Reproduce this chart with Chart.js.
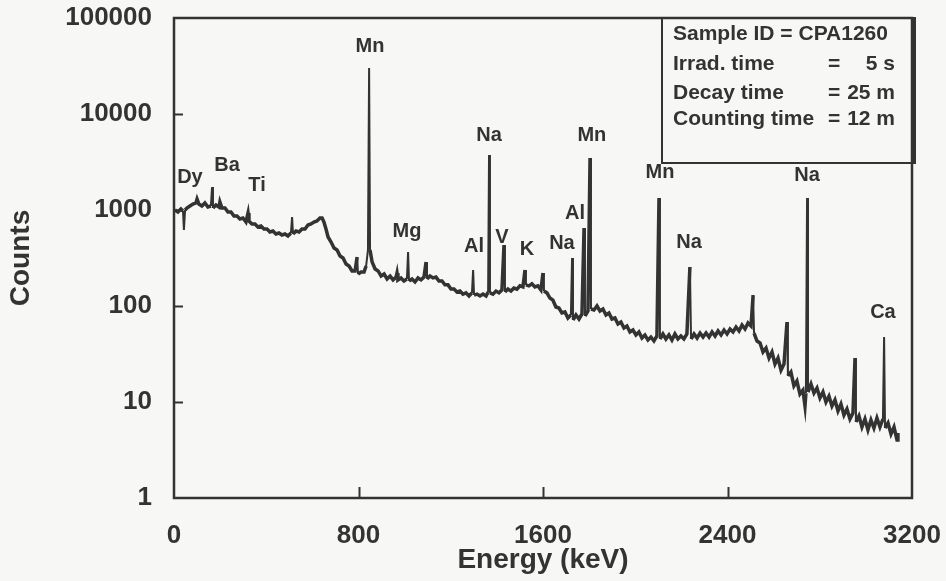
<!DOCTYPE html>
<html><head><meta charset="utf-8">
<script src="https://cdn.jsdelivr.net/npm/chart.js@4.4.1/dist/chart.umd.min.js"></script>
<style>html,body{margin:0;padding:0;background:#f7f7f5}#wrap{width:946px;height:581px;position:relative}</style>
</head><body><div id="wrap"><canvas id="c"></canvas></div>
<script>
// Gamma spectrum, energy in keV and counts per channel
const energy = [
4,17,30,39,43,48,56,69,82,95,
100,108,121,134,147,160,165,169,182,195,
199,208,221,234,247,260,273,286,299,312,
321,325,338,351,364,377,390,403,416,429,
442,455,468,481,494,507,512,516,529,542,
555,568,581,594,607,620,633,642,650,659,
668,681,694,707,720,733,746,759,772,785,
794,798,811,824,833,841,846,850,859,872,
885,898,911,924,937,950,963,967,971,984,
997,1010,1015,1019,1032,1045,1058,1071,1084,1093,
1097,1110,1123,1136,1149,1162,1175,1188,1201,1214,
1227,1240,1253,1266,1279,1292,1297,1301,1314,1327,
1340,1353,1362,1366,1370,1383,1396,1409,1422,1431,
1435,1448,1461,1474,1487,1500,1513,1522,1526,1539,
1552,1565,1578,1591,1600,1604,1617,1630,1643,1656,
1669,1682,1695,1708,1721,1726,1730,1743,1756,1769,
1778,1782,1795,1804,1808,1821,1834,1847,1860,1873,
1886,1899,1912,1925,1938,1951,1964,1977,1990,2003,
2016,2029,2042,2055,2068,2081,2094,2103,2107,2120,
2133,2146,2159,2172,2185,2198,2211,2224,2237,2242,
2255,2268,2281,2294,2307,2320,2333,2346,2359,2372,
2385,2398,2411,2424,2437,2450,2463,2476,2489,2502,
2511,2515,2528,2541,2554,2567,2580,2593,2606,2619,
2632,2645,2658,2662,2675,2688,2701,2714,2727,2736,
2740,2745,2749,2762,2775,2788,2801,2814,2827,2840,
2853,2866,2879,2892,2905,2918,2931,2944,2953,2957,
2970,2983,2996,3009,3022,3035,3048,3061,3074,3079,
3083,3096,3109,3122,3135,3139
];
const counts = [
1000,953,1024,976,619,1000,1049,1101,1155,1183,
1302,1155,1101,1183,1075,1101,1737,1049,1127,1075,
1212,1049,1049,953,953,866,866,806,825,750,
931,768,715,715,665,681,634,634,590,604,
562,576,549,562,536,576,846,562,604,590,
634,634,698,715,750,768,825,825,750,634,
523,464,402,383,332,316,274,261,232,232,
324,215,226,226,261,383,30150,383,287,243,
232,205,215,191,205,187,200,221,187,196,
182,191,365,182,191,178,196,187,200,287,
191,205,196,200,182,182,166,166,150,150,
140,143,133,137,127,137,237,130,133,127,
133,127,140,3740,137,133,143,137,147,432,
140,150,143,154,150,162,158,237,166,162,
170,158,162,147,221,143,137,121,115,97.6,
95.3,84.6,86.6,75,80.6,316,71.5,80.6,73.2,82.5,
649,78.7,88.7,3480,93.1,90.9,100,88.7,93.1,80.6,
84.6,73.2,75,64.9,68.1,59,61.9,53.6,56.2,49.9,
53.6,46.4,49.9,44.2,47.5,43.2,48.7,1334,45.3,51.1,
45.3,49.9,44.2,51.1,45.3,48.7,45.3,51.1,255,45.3,
51.1,46.4,52.3,47.5,52.3,47.5,53.6,48.7,54.9,49.9,
56.2,51.1,57.6,53.6,60.4,54.9,63.4,57.6,66.5,61.9,
130,52.3,43.2,41.2,33.2,36.5,28.7,33.2,24.9,28.7,
21.5,24.9,68.1,18.7,20.5,14.7,16.5,12.1,13.3,9.09,
12.4,1334,12.7,15.4,12.4,14,11,12.7,10,11.5,
9.09,10.5,8.06,9.53,7.32,8.46,6.65,7.68,28.7,6.19,
7.15,5.49,6.65,5.11,6.49,5.36,6.81,5.49,6.65,47.5,
5.36,6.04,4.64,5.49,4.02,4.75
];
// Element labels over the peaks (anchor in energy / counts)
const peakNames       = ['Dy','Ba','Ti','Mn','Mg','Al','Na','V','K','Na','Al','Mn','Mn','Na','Na','Ca'];
const peakLabelEnergy = [69,230,360,850,1010,1301,1366,1422,1531,1682,1739,1812,2107,2233,2745,3074];
const peakLabelCounts = [2206,2940,1820,49900,604,412,6040,523,392,453,930,6040,2430,464,2315,86.6];
// Axis ticks
const xTickValues = [0,800,1600,2400,3200];
const yTickValues = [1,10,100,1000,10000,100000];
// Info box
const infoLabels = ['Irrad. time','Decay time','Counting time'];
const infoValues = ['5 s','25 m','12 m'];
const sampleLine = 'Sample ID = CPA1260';

const FONT = '"Liberation Sans", Arial, Helvetica, sans-serif';
const INK = '#333333';
const BG = '#f7f7f5';

const decorPlugin = {
  id: 'decor',
  beforeDraw(chart){
    const ctx = chart.ctx;
    ctx.save(); ctx.fillStyle = BG; ctx.fillRect(0,0,chart.width,chart.height); ctx.restore();
  },
  afterDraw(chart){
    const {ctx, chartArea:a, scales:{x,y}} = chart;
    ctx.save();
    ctx.strokeStyle = INK; ctx.lineWidth = 2.5;
    ctx.strokeRect(a.left, a.top, a.right - a.left, a.bottom - a.top);
    ctx.lineWidth = 2;
    // inward tick marks
    yTickValues.slice(1,-1).forEach(v => {
      const py = Math.round(y.getPixelForValue(v)) + 0.5;
      ctx.beginPath(); ctx.moveTo(a.left, py); ctx.lineTo(a.left + 9, py); ctx.stroke();
    });
    xTickValues.slice(1,-1).forEach(v => {
      const px = Math.round(x.getPixelForValue(v)) + 0.5;
      ctx.beginPath(); ctx.moveTo(px, a.bottom); ctx.lineTo(px, a.bottom - 11); ctx.stroke();
    });
    // peak labels
    ctx.fillStyle = INK; ctx.font = 'bold 20px ' + FONT;
    ctx.textAlign = 'center'; ctx.textBaseline = 'middle';
    peakNames.forEach((n,i) => {
      ctx.fillText(n, x.getPixelForValue(peakLabelEnergy[i]), y.getPixelForValue(peakLabelCounts[i]));
    });
    // info box
    const bx = a.right - 250, by = a.top, bw = 250, bh = 145;
    ctx.lineWidth = 2;
    ctx.strokeRect(bx, by, bw, bh);
    ctx.lineWidth = 4;
    ctx.beginPath(); ctx.moveTo(a.right + 2, by - 1); ctx.lineTo(a.right + 2, by + bh + 1); ctx.stroke();
    ctx.font = 'bold 21px ' + FONT; ctx.textAlign = 'left'; ctx.textBaseline = 'middle';
    const tx = bx + 11;
    const rows = [by + 46, by + 75, by + 101];
    ctx.fillText(sampleLine, tx, by + 16);
    infoLabels.forEach((t,i) => {
      ctx.fillText(t, tx, rows[i]);
      ctx.fillText('=', bx + 166, rows[i]);
      ctx.textAlign = 'right';
      ctx.fillText(infoValues[i], bx + 233, rows[i]);
      ctx.textAlign = 'left';
    });
    ctx.restore();
  }
};

function noEdgePadding(s){ s.paddingTop = 0; s.paddingBottom = 0; s.paddingLeft = 0; s.paddingRight = 0; }
const isPeakSeg = c => Math.abs(c.p1.y - c.p0.y) > 14 && Math.abs(c.p1.x - c.p0.x) < 2;

new Chart(document.getElementById('c'), {
  type: 'line',
  data: {
    datasets: [{
      data: energy.map((e,i) => ({x: e, y: counts[i]})),
      borderColor: INK, borderWidth: 3.5, pointRadius: 0, tension: 0, fill: false,
      borderJoinStyle: 'miter',
      segment: {
        // narrow vertical peak lines, thicker continuum
        borderWidth: c => isPeakSeg(c) ? 2 : 3.5,
        borderJoinStyle: c => isPeakSeg(c) ? 'bevel' : 'miter'
      }
    }]
  },
  options: {
    responsive: true, maintainAspectRatio: false, animation: false,
    devicePixelRatio: 1,
    layout: { padding: { top: 18, right: 34, bottom: 0, left: 0 } },
    plugins: { legend: { display: false }, tooltip: { enabled: false } },
    scales: {
      x: {
        type: 'linear', min: 0, max: 3200,
        afterBuildTicks: s => { s.ticks = xTickValues.map(v => ({value: v})); },
        afterFit: s => { s.height = 83; noEdgePadding(s); },
        grid: { display: false }, border: { display: false },
        ticks: { color: INK, font: { family: FONT, size: 26, weight: 'bold' }, padding: 14, maxRotation: 0, callback: v => String(v) },
        title: { display: true, text: 'Energy (keV)', color: INK, font: { family: FONT, size: 28, weight: 'bold' }, padding: { top: 0, bottom: 4 } }
      },
      y: {
        type: 'logarithmic', min: 1, max: 100000,
        afterBuildTicks: s => { s.ticks = yTickValues.map(v => ({value: v})); },
        afterFit: s => { s.width = 174; noEdgePadding(s); },
        grid: { display: false }, border: { display: false },
        ticks: { color: INK, font: { family: FONT, size: 26, weight: 'bold' }, padding: 14, callback: v => String(v) },
        title: { display: true, text: 'Counts', color: INK, font: { family: FONT, size: 28, weight: 'bold' }, padding: { top: 4, bottom: 0 } }
      }
    }
  },
  plugins: [decorPlugin]
});
</script>
</body></html>
